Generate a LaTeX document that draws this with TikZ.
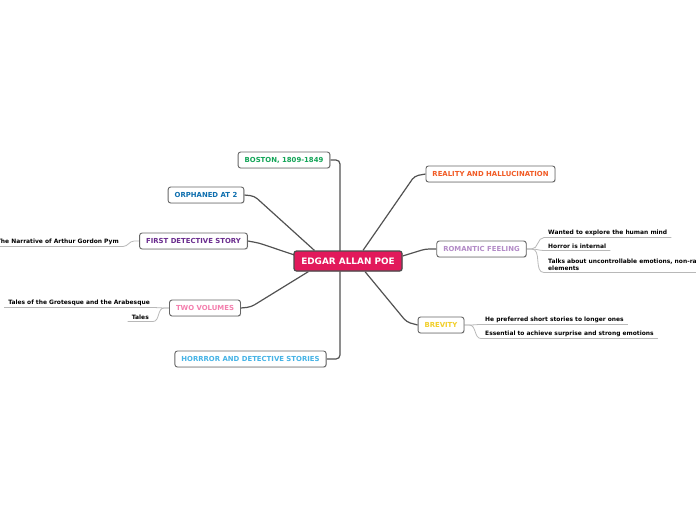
\documentclass[tikz,border=0pt]{standalone}
\usepackage{fontspec}
\setmainfont{DejaVu Sans}
\usetikzlibrary{backgrounds,calc,shadows}

\definecolor{poered}{HTML}{E2195B}
\definecolor{bostongreen}{HTML}{11A456}
\definecolor{orphanblue}{HTML}{0D6EAE}
\definecolor{detpurple}{HTML}{6A2C8E}
\definecolor{volpink}{HTML}{F47FAE}
\definecolor{horrorblue}{HTML}{45B3E6}
\definecolor{realorange}{HTML}{F15A24}
\definecolor{romlilac}{HTML}{B38BC7}
\definecolor{brevyellow}{HTML}{F2CF2A}

\begin{document}
\begin{tikzpicture}[x=1pt, y=-1pt,
  topic/.style={draw=black!60, fill=white, rounded corners=2.5pt, line width=0.9pt,
                font=\bfseries\fontsize{6.9}{8}\selectfont, minimum height=16pt,
                inner xsep=6.5pt, inner ysep=0pt,
                drop shadow={shadow xshift=0.7pt, shadow yshift=-0.7pt, fill=black!25}},
  root/.style={draw=black!70, fill=poered, text=white, rounded corners=2.5pt,
               line width=1.2pt, font=\bfseries\fontsize{8.9}{10}\selectfont,
               minimum width=108pt, minimum height=20pt, inner sep=0pt,
               drop shadow={shadow xshift=0.8pt, shadow yshift=-0.8pt, fill=black!30}},
  leaf/.style={font=\bfseries\fontsize{5.95}{7.2}\selectfont, inner xsep=4pt,
               inner ysep=1.6pt, align=left},
  branch/.style={draw=black!68, line width=1.2pt, rounded corners=4pt},
  twig/.style={draw=black!28, line width=0.8pt}]
  \clip (0,0) rectangle (696,520);

  % main topic and its branches
  \node[root] (poe) at (348,261) {EDGAR ALLAN POE};
  \coordinate (trunk) at (340,261);
  \node[topic, text=bostongreen] (boston) at (284,160) {BOSTON, 1809-1849};
  \node[topic, text=orphanblue] (orphaned) at (206,195) {ORPHANED AT 2};
  \node[topic, text=detpurple] (firstdet) at (193.5,241) {FIRST DETECTIVE STORY};
  \node[topic, text=volpink] (twovol) at (205,308) {TWO VOLUMES};
  \node[topic, text=horrorblue] (horror) at (250.5,359) {HORRROR AND DETECTIVE STORIES};
  \node[topic, text=realorange] (reality) at (490.5,174) {REALITY AND HALLUCINATION};
  \node[topic, text=romlilac] (romantic) at (481.5,249) {ROMANTIC FEELING};
  \node[topic, text=brevyellow] (brevity) at (441,325) {BREVITY};

  % leaves
  \node[leaf, anchor=south east] (pym) at (123,246.5) {The Narrative of Arthur Gordon Pym};
  \node[leaf, anchor=south east] (grotesque) at (154,307.5) {Tales of the Grotesque and the Arabesque};
  \node[leaf, anchor=south east] (tales) at (153,321.5) {Tales};
  \node[leaf, anchor=south west] (mind) at (544,237.5) {Wanted to explore the human mind};
  \node[leaf, anchor=south west] (internal) at (544,250.5) {Horror is internal};
  \node[leaf, anchor=south west] (emotions) at (544,272.5)
       {Talks about uncontrollable emotions, non-rational\\elements\hspace{150pt}};
  \node[leaf, anchor=south west] (shorter) at (481,324.5) {He preferred short stories to longer ones};
  \node[leaf, anchor=south west] (surprise) at (481,338.5) {Essential to achieve surprise and strong emotions};

  \begin{scope}[on background layer]
    \draw[branch] (boston.east) -| (trunk);
    \draw[branch] (horror.east) -| (trunk);
    \draw[branch] (orphaned.east) -- ++(10,1) -- ($(poe.north west)+(21,0)$);
    \draw[branch] (firstdet.east) -- ++(11,2) -- ($(poe.west)+(1,-6)$);
    \draw[branch] (twovol.east) -- ++(10,-1) -- ($(poe.south west)+(15,0)$);
    \draw[branch] (reality.west) -- ++(-11,2) -- ($(poe.north)+(15,0)$);
    \draw[branch] (romantic.west) -- ++(-11,0) -- ($(poe.east)+(0,-5)$);
    \draw[branch] (brevity.west) -- ++(-11,-3) -- ($(poe.south)+(17,0)$);

    \draw[twig] (firstdet.west) -- ++(-5,0) to[out=180,in=0] (pym.south east) -- (pym.south west);
    \draw[twig] (twovol.west) -- ++(-5,0) to[out=180,in=0] (grotesque.south east) -- (grotesque.south west);
    \draw[twig] (twovol.west) -- ++(-5,0) to[out=180,in=0] (tales.south east) -- (tales.south west);
    \draw[twig] (romantic.east) -- ++(5,0) to[out=0,in=180] (mind.south west) -- (mind.south east);
    \draw[twig] (romantic.east) -- ++(5,0) to[out=0,in=180] (internal.south west) -- (internal.south east);
    \draw[twig] (romantic.east) -- ++(5,0) to[out=0,in=180] (emotions.south west) -- (emotions.south east);
    \draw[twig] (brevity.east) -- ++(5,0) to[out=0,in=180] (shorter.south west) -- (shorter.south east);
    \draw[twig] (brevity.east) -- ++(5,0) to[out=0,in=180] (surprise.south west) -- (surprise.south east);
  \end{scope}
\end{tikzpicture}
\end{document}
